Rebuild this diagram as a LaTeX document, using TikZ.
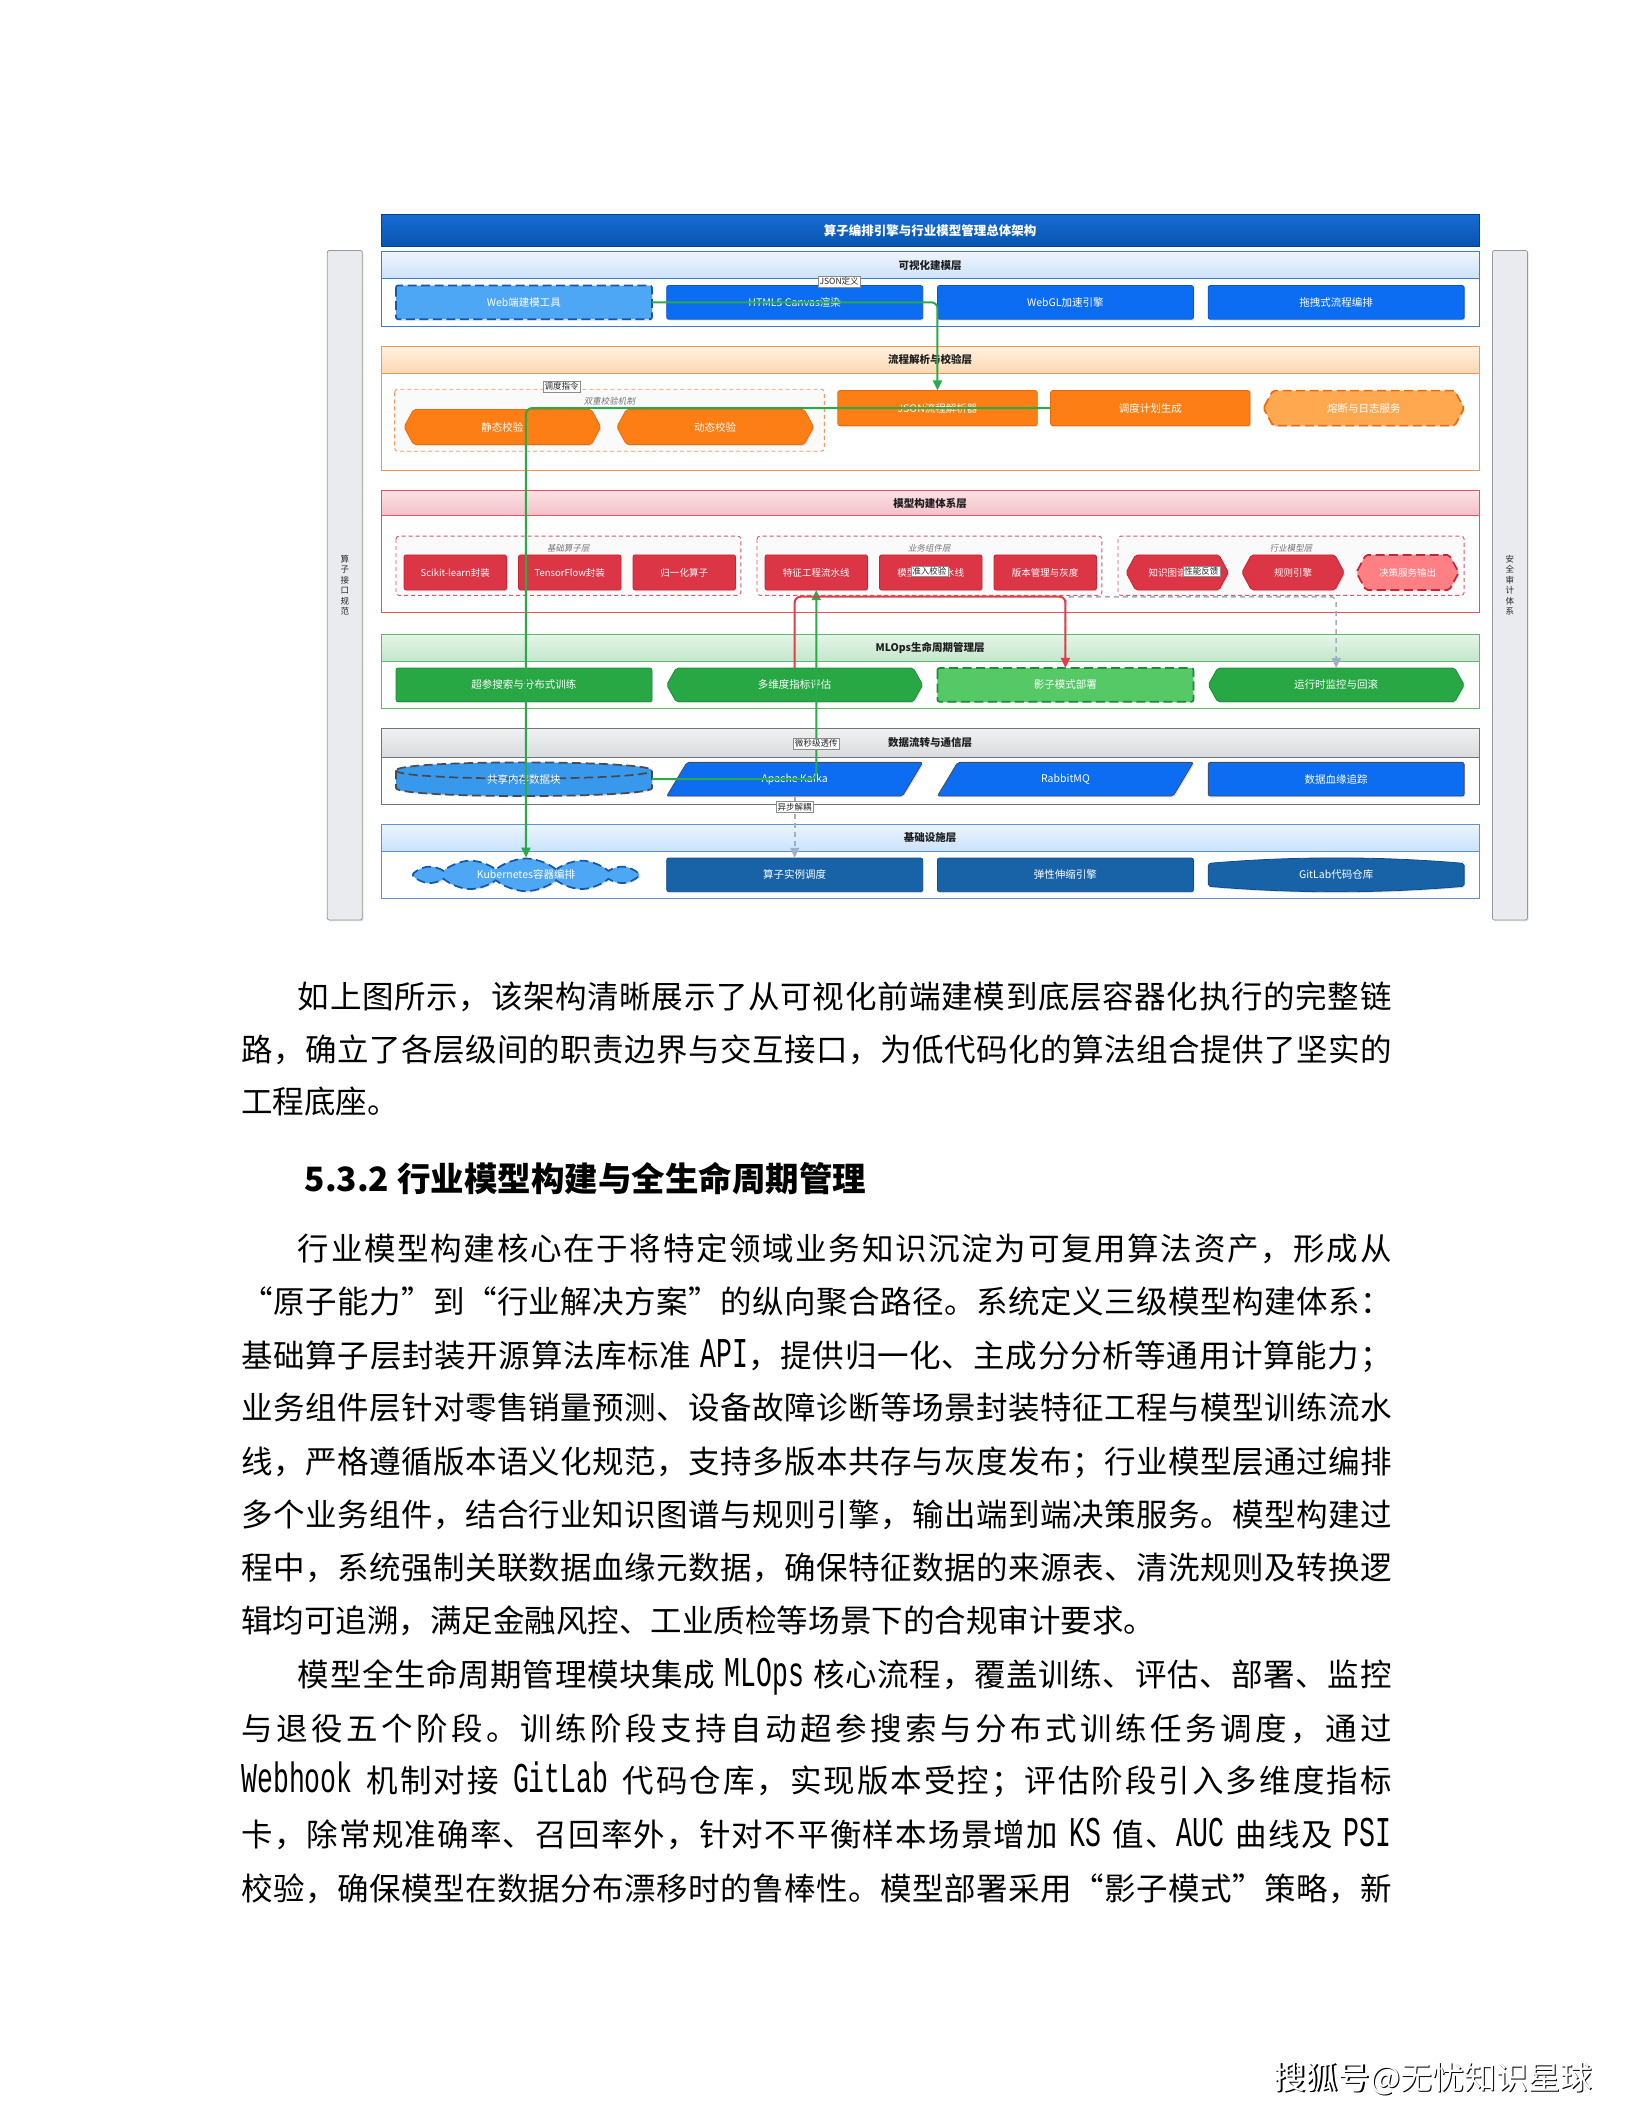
\documentclass[tikz,border=0pt]{standalone}
\usepackage{fontspec}
\setmainfont{Noto Sans CJK SC}
\newfontfamily\slfont{Noto Sans CJK SC}[FakeSlant=0.18]
\newfontfamily\mfont{Liberation Mono}
\usetikzlibrary{arrows.meta,shapes.symbols,shadows,calc}
% stretchable glue between CJK characters (for justified lines)
\XeTeXinterchartokenstate=1
\newcount\cjkc
\cjkc="4E00 \loop \XeTeXcharclass\cjkc=1 \advance\cjkc by 1 \ifnum\cjkc<"A000 \repeat
\cjkc="3000 \loop \XeTeXcharclass\cjkc=1 \advance\cjkc by 1 \ifnum\cjkc<"3040 \repeat
\cjkc="FF00 \loop \XeTeXcharclass\cjkc=1 \advance\cjkc by 1 \ifnum\cjkc<"FFF0 \repeat
\XeTeXcharclass"201C=1 \XeTeXcharclass"201D=1
\XeTeXinterchartoks 1 1 = {\hskip 0pt plus 1pt\relax}
\definecolor{cTitT}{RGB}{24,108,210}
\definecolor{cTitB}{RGB}{8,84,176}
\definecolor{cTitD}{RGB}{6,66,140}
\definecolor{cBlue}{RGB}{12,108,242}
\definecolor{cBlueD}{RGB}{8,88,205}
\definecolor{cLBlue}{RGB}{78,167,245}
\definecolor{cLBlueD}{RGB}{22,88,168}
\definecolor{cOr}{RGB}{253,126,20}
\definecolor{cOrD}{RGB}{232,108,12}
\definecolor{cLOr}{RGB}{255,168,80}
\definecolor{cRed}{RGB}{220,53,69}
\definecolor{cRedD}{RGB}{196,38,54}
\definecolor{cLRed}{RGB}{255,128,132}
\definecolor{cGr}{RGB}{40,167,69}
\definecolor{cGrD}{RGB}{30,140,55}
\definecolor{cLGr}{RGB}{84,201,102}
\definecolor{cSteel}{RGB}{24,98,168}
\definecolor{cSteelD}{RGB}{14,76,140}
\definecolor{cShm}{RGB}{56,152,236}
\definecolor{cDk}{RGB}{72,74,80}
\definecolor{aT}{RGB}{238,245,254}\definecolor{aH}{RGB}{205,226,250}\definecolor{aB}{RGB}{60,125,205}
\definecolor{bT}{RGB}{255,241,225}\definecolor{bH}{RGB}{253,217,178}\definecolor{bB}{RGB}{245,150,82}
\definecolor{cT}{RGB}{251,225,229}\definecolor{cH}{RGB}{243,192,199}\definecolor{cB}{RGB}{226,84,96}
\definecolor{dT}{RGB}{228,245,231}\definecolor{dH}{RGB}{196,230,203}\definecolor{dB}{RGB}{96,184,112}
\definecolor{eT}{RGB}{240,241,242}\definecolor{eH}{RGB}{217,219,222}\definecolor{eB}{RGB}{112,116,124}
\definecolor{fT}{RGB}{234,244,254}\definecolor{fH}{RGB}{202,226,251}\definecolor{fB}{RGB}{92,146,210}
\definecolor{cSide}{RGB}{233,235,238}
\definecolor{cSideD}{RGB}{150,154,160}
\definecolor{cCtn}{RGB}{250,250,251}
\definecolor{lnG}{RGB}{42,170,72}
\definecolor{lnR}{RGB}{226,62,72}
\definecolor{lnY}{RGB}{160,174,198}
\def\boxfs{\fontsize{10.5}{12}\selectfont}
% shapes: x1 y1 x2 y2 style
\newcommand\shpR[5]{\path[#5] (#1,#2) rectangle (#3,#4);}
\newcommand\shpH[5]{\path[#5] (#1,{(#2+#4)/2}) -- ({#1+7},#2) -- ({#3-7},#2) -- (#3,{(#2+#4)/2}) -- ({#3-7},#4) -- ({#1+7},#4) -- cycle;}
\newcommand\shpP[5]{\path[#5] (#1,#4) -- ({#1+15},#2) -- (#3,#2) -- ({#3-15},#4) -- cycle;}
\newcommand\shpC[5]{\path[#5] (#1,{#2+6}) -- (#1,{#4-6}) .. controls (#1,{#4+2}) and (#3,{#4+2}) .. (#3,{#4-6}) -- (#3,{#2+6}) .. controls (#3,{#2-2}) and (#1,{#2-2}) .. (#1,{#2+6}) -- cycle;
 \path[draw=cDk, line width=1.7pt, dash pattern=on 9pt off 4.5pt] (#1,{#2+6}) .. controls (#1,{#2+14}) and (#3,{#2+14}) .. (#3,{#2+6});}
\newcommand\shpG[5]{\path[#5] (#1,{#2+4}) .. controls ({#1+63},{#2-1.4}) and ({#3-63},{#2-1.4}) .. (#3,{#2+4}) -- (#3,{#4-4}) .. controls ({#3-63},{#4+1.4}) and ({#1+63},{#4+1.4}) .. (#1,{#4-4}) -- cycle;}
% box: shape, style, name, x1, y1, x2, y2, text
\newcommand\B[8]{\csname shp#1\endcsname{#4}{#5}{#6}{#7}{#2}%
 \node[boxtxt, minimum width={(#6-#4)*1.3465pt}, minimum height={(#7-#5)*1.3465pt}] (#3) at ({(#4+#6)/2},{(#5+#7)/2}) {#8};}
% layer: name, y1, yh, y2, prefix, title
\newcommand\layer[6]{%
 \path[fill=white, draw=#5B, line width=0.9pt] (283,#2) rectangle (1098,#4);
 \path[top color=#5T, bottom color=#5H, draw=#5B, line width=0.9pt] (283,#2) rectangle (1098,#3);
 \node[hdr] (#1) at (690.5,{(#2+#3)/2}) {#6};}
% container: name x1 y1 x2 y2 color label
\newcommand\ctn[7]{%
 \path[fill=cCtn, draw=#6, dash pattern=on 4pt off 3pt, line width=0.9pt, rounded corners=3pt] (#2,#3) rectangle (#4,#5);
 \node[ctl] (#1) at ({(#2+#4)/2},{#3+9}) {#7};}
\newcommand\lat[1]{{\mfont\fontsize{26.5}{30}\selectfont\scalebox{1}[1.6]{#1}}}
\newcommand\fullA[3]{\node[body] (#1) at (221,{#2+9}) {\hbox to 1093.4pt{#3}};}
\newcommand\fullB[3]{\node[body] (#1) at (179,{#2+9}) {\hbox to 1149.9pt{#3}};}
\newcommand\natB[3]{\node[body] (#1) at (179,{#2+9}) {#3};}
\begin{document}
\begin{tikzpicture}[x=1.3465pt,y=-1.3465pt,
 boxtxt/.style={inner sep=0pt, text=white, font=\boxfs, align=center},
 shd/.style={drop shadow={opacity=0.22, shadow xshift=1.3pt, shadow yshift=-1.3pt}},
 solidb/.style={line width=0.8pt, rounded corners=2pt, shd},
 dashb/.style={line width=1.7pt, dash pattern=on 9pt off 4.5pt, rounded corners=2pt, shd},
 bluebox/.style={solidb, fill=cBlue, draw=cBlueD},
 lbdash/.style={dashb, fill=cLBlue, draw=cLBlueD},
 orbox/.style={solidb, fill=cOr, draw=cOrD},
 lordash/.style={dashb, fill=cLOr, draw=cOrD},
 redbox/.style={solidb, fill=cRed, draw=cRedD},
 lreddash/.style={dashb, fill=cLRed, draw=cRedD},
 grbox/.style={solidb, fill=cGr, draw=cGrD},
 lgrdash/.style={dashb, fill=cLGr, draw=cGrD},
 kbox/.style={solidb, fill=cBlue, draw=cDk},
 stbox/.style={solidb, fill=cSteel, draw=cSteelD},
 shmst/.style={dashb, rounded corners=0pt, fill=cShm, draw=cDk},
 hdr/.style={font=\bfseries\fontsize{10.5}{12}\selectfont, text=black!88, inner sep=0pt},
 ctl/.style={font=\slfont\fontsize{8.5}{10}\selectfont, text=black!55, inner sep=0pt},
 elabel/.style={fill=white, draw=black!45, line width=0.4pt, inner sep=1.3pt, font=\fontsize{8.5}{9.5}\selectfont, text=black!85},
 side/.style={align=center, font=\fontsize{8.5}{10.5}\selectfont, text=black!85, inner sep=0pt},
 conn/.style={line width=2pt, rounded corners=6pt, -{Triangle[length=10pt,width=9pt]}},
 gline/.style={conn, draw=lnG},
 rline/.style={conn, draw=lnR},
 yline/.style={conn, draw=lnY, line width=1.6pt, dash pattern=on 5pt off 4pt},
 body/.style={anchor=base west, inner sep=0pt, font=\fontsize{31.5}{40}\selectfont, text=black}
]
\useasboundingbox (0,0) rectangle (1212,1568);
\fill[white] (0,0) rectangle (1212,1568);

% side bars
\path[fill=cSide, draw=cSideD, line width=0.8pt, rounded corners=2pt, shd] (243,186) rectangle (269,683);
\node[side] (lside) at (256,434.5) {算\\子\\接\\口\\规\\范};
\path[fill=cSide, draw=cSideD, line width=0.8pt, rounded corners=2pt, shd] (1108,186) rectangle (1134,683);
\node[side] (rside) at (1121,434.5) {安\\全\\审\\计\\体\\系};

% title bar
\path[top color=cTitT, bottom color=cTitB, draw=cTitD, line width=0.8pt] (283,159) rectangle (1098,183);
\node[font=\bfseries\fontsize{12.5}{14}\selectfont, text=white, inner sep=0pt] (title) at (690.5,171) {算子编排引擎与行业模型管理总体架构};

% layer 1
\layer{h1}{187}{207}{242}{a}{可视化建模层}
\B{R}{lbdash}{web}{294}{212}{484}{237}{Web端建模工具}
\B{R}{bluebox}{canvas}{495}{212}{685}{237}{HTML5 Canvas渲染}
\B{R}{bluebox}{webgl}{696}{212}{886}{237}{WebGL加速引擎}
\B{R}{bluebox}{drag}{897}{212}{1087}{237}{拖拽式流程编排}

% layer 2
\layer{h2}{257}{277}{349}{b}{流程解析与校验层}
\ctn{cv}{293}{289}{612}{335}{bB}{双重校验机制}
\B{H}{orbox}{static}{300}{304}{446}{330}{静态校验}
\B{H}{orbox}{dynamic}{458}{304}{604}{330}{动态校验}
\B{R}{orbox}{json}{622}{290}{770}{316}{JSON流程解析器}
\B{R}{orbox}{plan}{780}{290}{928}{316}{调度计划生成}
\B{H}{lordash}{fuse}{938}{290}{1087}{316}{熔断与日志服务}

% layer 3
\layer{h3}{364}{383}{455}{c}{模型构建体系层}
\ctn{cb1}{294}{398}{550}{442}{cB}{基础算子层}
\ctn{cb2}{562}{398}{818}{442}{cB}{业务组件层}
\ctn{cb3}{830}{398}{1087}{442}{cB}{行业模型层}
\def\boxfs{\fontsize{9.5}{11}\selectfont}
\B{R}{redbox}{sk}{300}{412}{376}{438}{Scikit-learn封装}
\B{R}{redbox}{tf}{385}{412}{461}{438}{TensorFlow封装}
\B{R}{redbox}{norm}{470}{412}{546}{438}{归一化算子}
\B{R}{redbox}{feat}{568}{412}{644}{438}{特征工程流水线}
\B{R}{redbox}{train}{653}{412}{729}{438}{模型训练流水线}
\B{R}{redbox}{ver}{738}{412}{814}{438}{版本管理与灰度}
\B{H}{redbox}{kg}{836}{412}{912}{438}{知识图谱推理}
\B{H}{redbox}{rule}{922}{412}{998}{438}{规则引擎}
\B{H}{lreddash}{dec}{1007}{412}{1083}{438}{决策服务输出}
\def\boxfs{\fontsize{10.5}{12}\selectfont}

% layer 4
\layer{h4}{471}{491}{526}{d}{MLOps生命周期管理层}
\B{R}{grbox}{hp}{294}{496}{484}{521}{超参搜索与分布式训练}
\B{H}{grbox}{eval}{495}{496}{685}{521}{多维度指标评估}
\B{R}{lgrdash}{shadowd}{696}{496}{886}{521}{影子模式部署}
\B{H}{grbox}{mon}{897}{496}{1087}{521}{运行时监控与回滚}

% layer 5
\layer{h5}{541}{562}{597}{e}{数据流转与通信层}
\B{C}{shmst}{shm}{294}{566}{484}{591}{共享内存数据块}
\B{P}{kbox}{kafka}{495}{566}{685}{591}{Apache Kafka}
\B{P}{kbox}{rabbit}{696}{566}{886}{591}{RabbitMQ}
\B{R}{kbox}{lineage}{897}{566}{1087}{591}{数据血缘追踪}

% layer 6
\layer{h6}{612}{632}{667}{f}{基础设施层}
\node[boxtxt, cloud, cloud puffs=12, cloud puff arc=80, aspect=6.8, minimum width={168*1.3465pt}, minimum height={24*1.3465pt}, fill=cLBlue, draw=cLBlueD, line width=1.7pt, dash pattern=on 9pt off 4.5pt, shd] (k8s) at (390.5,649.5) {Kubernetes容器编排};
\B{R}{stbox}{sched}{495}{637}{685}{662}{算子实例调度}
\B{R}{stbox}{scale}{696}{637}{886}{662}{弹性伸缩引擎}
\B{G}{stbox}{git}{897}{637}{1087}{662}{GitLab代码仓库}

% connectors
\coordinate (hy) at (0,443);
\draw[gline] (web.east) -| (json.north);
\draw[gline] (plan.west) -| (k8s.north);
\draw[gline] (shm.east) -| (feat.south);
\draw[yline] (shadowd.north) -- (shadowd.north |- hy) -| (mon.north);
\draw[rline] (eval.north) -- (eval.north |- hy) -| (shadowd.north);
\draw[yline] (kafka.south) -- (sched.north);

% edge labels
\node[elabel] (lbjson) at (623,209) {JSON定义};
\node[elabel] (lbsch) at (417,287) {调度指令};
\node[elabel] (lbadm) at (690,424) {准入校验};
\node[elabel] (lbperf) at (892,424) {性能反馈};
\node[elabel] (lbus) at (606,552) {微秒级透传};
\node[elabel] (lbasync) at (590,599) {异步解耦};

% body text
\fullA{t1}{740}{如上图所示，该架构清晰展示了从可视化前端建模到底层容器化执行的完整链}
\fullB{t2}{779}{路，确立了各层级间的职责边界与交互接口，为低代码化的算法组合提供了坚实的}
\natB{t3}{818}{工程底座。}
\node[anchor=base west, inner sep=0pt, font=\bfseries\fontsize{33.5}{36}\selectfont] (h532) at (226,884.5) {5.3.2 行业模型构建与全生命周期管理};
\fullA{t4}{927}{行业模型构建核心在于将特定领域业务知识沉淀为可复用算法资产，形成从}
\fullB{t5}{966}{“原子能力”到“行业解决方案”的纵向聚合路径。系统定义三级模型构建体系：}
\fullB{t6}{1006}{基础算子层封装开源算法库标准 \lat{API}，提供归一化、主成分分析等通用计算能力；}
\fullB{t7}{1045}{业务组件层针对零售销量预测、设备故障诊断等场景封装特征工程与模型训练流水}
\fullB{t8}{1085}{线，严格遵循版本语义化规范，支持多版本共存与灰度发布；行业模型层通过编排}
\fullB{t9}{1124}{多个业务组件，结合行业知识图谱与规则引擎，输出端到端决策服务。模型构建过}
\fullB{t10}{1164}{程中，系统强制关联数据血缘元数据，确保特征数据的来源表、清洗规则及转换逻}
\natB{t11}{1203}{辑均可追溯，满足金融风控、工业质检等场景下的合规审计要求。}
\fullA{t12}{1243}{模型全生命周期管理模块集成 \lat{MLOps} 核心流程，覆盖训练、评估、部署、监控}
\fullB{t13}{1283}{与退役五个阶段。训练阶段支持自动超参搜索与分布式训练任务调度，通过}
\fullB{t14}{1322}{\lat{Webhook} 机制对接 \lat{GitLab} 代码仓库，实现版本受控；评估阶段引入多维度指标}
\fullB{t15}{1362}{卡，除常规准确率、召回率外，针对不平衡样本场景增加 \lat{KS} 值、\lat{AUC} 曲线及 \lat{PSI}}
\fullB{t16}{1402}{校验，确保模型在数据分布漂移时的鲁棒性。模型部署采用“影子模式”策略，新}

% footer
\node[font=\fontsize{32}{34}\selectfont, text=black, inner sep=0pt] (footsh) at (1065.2,1544.2) {搜狐号@无忧知识星球};
\node[font=\fontsize{32}{34}\selectfont, text=white, inner sep=0pt] (foot) at (1064,1543) {搜狐号@无忧知识星球};
\end{tikzpicture}
\end{document}
